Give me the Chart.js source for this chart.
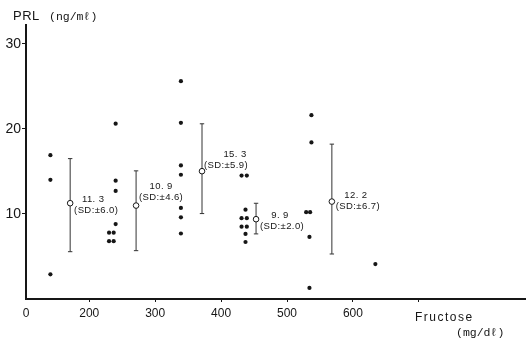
<!DOCTYPE html>
<html>
<head>
<meta charset="utf-8">
<script src="https://cdn.jsdelivr.net/npm/chart.js@4.4.0/dist/chart.umd.min.js"></script>
<style>
    body { margin: 0; background: #fff; }
    #prlChart { display: block; }
</style>
</head>
<body>
<canvas id="prlChart" width="532" height="343"></canvas>
<script>
//data - individual samples
const dotFructose = [141, 141, 141,
    240, 240, 240, 240, 230, 237, 230, 237,
    339, 339, 339, 339, 339, 339, 339,
    431, 439, 437, 431, 439, 431, 439, 437, 437,
    537, 537, 529, 535, 534, 534,
    634];
const dotPrl = [16.9, 14.0, 2.9,
    20.6, 13.9, 12.7, 8.8, 7.8, 7.8, 6.8, 6.8,
    25.6, 20.7, 15.7, 14.6, 10.7, 9.6, 7.7,
    14.5, 14.5, 10.5, 9.5, 9.5, 8.5, 8.5, 7.65, 6.7,
    21.6, 18.4, 10.2, 10.2, 7.3, 1.3,
    4.1];

//data - group means and SD bars
const meanFructose = [171, 271, 371, 453, 568];
const meanPrl = [11.26, 10.98, 15.02, 9.38, 11.45];
const sdLow = [5.56, 5.68, 10.04, 7.65, 5.29];
const sdHigh = [16.5, 15.06, 20.59, 11.25, 18.2];
const meanLabels = ['11. 3', '10. 9', '15. 3', '9. 9', '12. 2'];
const sdLabels = ['6.0', '4.6', '5.9', '2.0', '6.7'];

//axes
const xTicks = [200, 300, 400, 500, 600, 700];
const xMin = 104;
const xMax = 861;
const yTicks = [10, 20, 30];

//label placement relative to each mean point (px)
const meanTextOffset = [[23, -4], [25, -19], [33, -17], [24, -4], [24, -6]];
const sdTextOffset = [[26, 7], [25, -8], [24, -6], [26, 7], [26, 5]];

const ink = '#161616';

const errorBarSets = meanFructose.map((x, i) => ({
    type: 'line',
    data: [{ x: x, y: sdLow[i] }, { x: x, y: sdHigh[i] }],
    showLine: true,
    borderColor: '#333',
    borderWidth: 1,
    pointStyle: 'line',
    pointRadius: 2.2,
    pointBorderColor: '#333',
    pointBorderWidth: 1,
    order: 3
}));

const textPlugin = {
    id: 'prlText',
    afterDatasetsDraw(chart) {
        const ctx = chart.ctx;
        const xs = chart.scales.x;
        const ys = chart.scales.y;
        ctx.save();
        ctx.fillStyle = ink;
        ctx.textBaseline = 'middle';

        // mean / SD annotations
        ctx.textAlign = 'center';
        ctx.font = '9.5px "Liberation Sans", Arial, sans-serif';
        ctx.letterSpacing = '0.4px';
        meanFructose.forEach((x, i) => {
            const px = xs.getPixelForValue(x);
            const py = ys.getPixelForValue(meanPrl[i]);
            ctx.fillText(meanLabels[i], px + meanTextOffset[i][0], py + meanTextOffset[i][1]);
            ctx.fillText('(SD:\u00b1' + sdLabels[i] + ')', px + sdTextOffset[i][0], py + sdTextOffset[i][1]);
        });
        ctx.letterSpacing = '0px';

        // axis titles
        ctx.textAlign = 'left';
        ctx.font = '13px "Liberation Sans", Arial, sans-serif';
        ctx.letterSpacing = '0.5px';
        ctx.fillText('PRL', 13, 16);
        ctx.letterSpacing = '0px';
        ctx.font = '11.5px "Liberation Mono", "DejaVu Sans Mono", monospace';
        ctx.fillText('(ng/m\u2113)', 49, 17);

        ctx.font = '12px "Liberation Sans", Arial, sans-serif';
        ctx.letterSpacing = '1.5px';
        ctx.fillText('Fructose', 415, 318);
        ctx.letterSpacing = '0px';
        ctx.font = '11.5px "Liberation Mono", "DejaVu Sans Mono", monospace';
        ctx.fillText('(mg/d\u2113)', 456, 333);
        ctx.restore();
    }
};

new Chart(document.getElementById('prlChart'), {
    type: 'scatter',
    data: {
        datasets: [
            {
                // group means (open circles)
                data: meanFructose.map((x, i) => ({ x: x, y: meanPrl[i] })),
                pointRadius: 2.8,
                pointBackgroundColor: '#fff',
                pointBorderColor: ink,
                pointBorderWidth: 1,
                order: 1
            },
            {
                // individual values
                data: dotFructose.map((x, i) => ({ x: x, y: dotPrl[i] })),
                pointRadius: 2.1,
                pointBackgroundColor: ink,
                pointBorderWidth: 0,
                order: 2
            },
            ...errorBarSets
        ]
    },
    options: {
        responsive: false,
        animation: false,
        layout: { padding: { left: 0, top: 25, right: 7, bottom: 0 } },
        plugins: {
            legend: { display: false },
            tooltip: { enabled: false }
        },
        scales: {
            x: {
                type: 'linear',
                min: xMin,
                max: xMax,
                afterFit: (scale) => { scale.height = 44; },
                afterBuildTicks: (scale) => {
                    scale.ticks = [xMin, ...xTicks].map(v => ({ value: v }));
                },
                border: { color: ink, width: 2 },
                grid: {
                    drawOnChartArea: false,
                    tickLength: 3,
                    color: (c) => (c.tick && c.tick.value === xMin ? 'rgba(0,0,0,0)' : ink)
                },
                ticks: {
                    autoSkip: false,
                    maxRotation: 0,
                    padding: 4,
                    color: ink,
                    font: { family: '"Liberation Sans", Arial, sans-serif', size: 12 },
                    callback: (v) => (v === xMin ? '0' : v === 700 ? '' : String(v))
                }
            },
            y: {
                min: 0,
                max: 32.2,
                afterFit: (scale) => { scale.width = 26; },
                afterBuildTicks: (scale) => {
                    scale.ticks = yTicks.map(v => ({ value: v }));
                },
                border: { color: ink, width: 2 },
                grid: { drawOnChartArea: false, tickLength: 4, color: ink },
                ticks: {
                    padding: 1,
                    color: ink,
                    font: { family: '"Liberation Sans", Arial, sans-serif', size: 14 }
                }
            }
        }
    },
    plugins: [textPlugin]
});
</script>
</body>
</html>
